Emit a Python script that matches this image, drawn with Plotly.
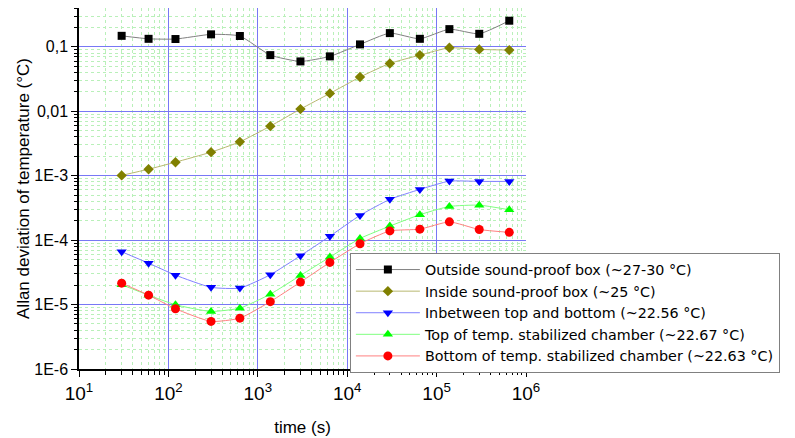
import numpy as np
import plotly.graph_objects as go

# ---- data ----
time_s = [30, 60, 120, 300, 630, 1380, 3000, 6400, 13900, 30000, 65000, 139000, 300000, 650000]

outside_box = [0.148, 0.133, 0.132, 0.156, 0.147, 0.0743, 0.0593, 0.0710, 0.109, 0.163, 0.133, 0.188, 0.159, 0.254]
inside_box = [0.00101, 0.00126, 0.00162, 0.00232, 0.00335, 0.00587, 0.0108, 0.0189, 0.0339, 0.0552, 0.0743, 0.0965, 0.0911, 0.0889]
inbetween = [6.6e-5, 4.39e-5, 2.86e-5, 1.85e-5, 1.80e-5, 2.90e-5, 5.73e-5, 1.15e-4, 2.42e-4, 4.29e-4, 6.12e-4, 8.24e-4, 8.15e-4, 8.15e-4]
top_chamber = [2.03e-5, 1.40e-5, 9.93e-6, 7.82e-6, 8.80e-6, 1.45e-5, 2.83e-5, 5.45e-5, 1.06e-4, 1.65e-4, 2.48e-4, 3.33e-4, 3.49e-4, 2.96e-4]
bottom_chamber = [2.15e-5, 1.40e-5, 8.61e-6, 5.47e-6, 6.15e-6, 1.11e-5, 2.23e-5, 4.51e-5, 8.79e-5, 1.39e-4, 1.48e-4, 1.92e-4, 1.46e-4, 1.32e-4]

series_names = [
    "Outside sound-proof box (~27-30 °C)",
    "Inside sound-proof box (~25 °C)",
    "Inbetween top and bottom (~22.56 °C)",
    "Top of temp. stabilized chamber (~22.67 °C)",
    "Bottom of temp. stabilized chamber (~22.63 °C)",
]

x_tickvals = [1e1, 1e2, 1e3, 1e4, 1e5, 1e6]
x_ticktext = ["10<sup>1</sup>", "10<sup>2</sup>", "10<sup>3</sup>", "10<sup>4</sup>", "10<sup>5</sup>", "10<sup>6</sup>"]
y_tickvals = [1e-6, 1e-5, 1e-4, 1e-3, 1e-2, 1e-1]
y_ticktext = ["1E-6", "1E-5", "1E-4", "1E-3", "0,01", "0,1"]

# ---- styling ----
series = [outside_box, inside_box, inbetween, top_chamber, bottom_chamber]
marker_colors = ["#000000", "#808000", "#0000ff", "#00ff00", "#ff0000"]
line_colors = ["#808080", "#b8b870", "#8080ff", "#80ff80", "#ff8080"]
symbols = ["square", "diamond", "triangle-down", "triangle-up", "circle"]
sizes = [8, 8, 9, 9, 9]

fig = go.Figure()
for ys, name, mc, lc, sym, sz in zip(series, series_names, marker_colors, line_colors, symbols, sizes):
    fig.add_trace(go.Scatter(
        x=time_s, y=ys, name=name, mode="lines+markers",
        line=dict(color=lc, width=1, shape="spline", smoothing=0.5),
        marker=dict(color=mc, symbol=sym, size=sz, line=dict(width=0)),
    ))

minor_vals_x = [m * 10 ** d for d in range(1, 6) for m in range(2, 10)]
minor_vals_y = [m * 10.0 ** d for d in range(-6, 0) for m in range(2, 10)]

major_grid = "rgb(120,120,245)"
minor_grid = "rgb(185,240,185)"

# the page body adds an 8px offset, so the figure is 8px smaller and margins shifted
fig.update_layout(
    width=787, height=430,
    margin=dict(l=71, r=269, t=0, b=69, autoexpand=False),
    paper_bgcolor="white", plot_bgcolor="white",
    font=dict(family="Arial, Liberation Sans, sans-serif", color="black"),
    showlegend=True,
    legend=dict(
        x=0.606, y=0.322, xanchor="left", yanchor="top",
        bordercolor="#808080", borderwidth=1, bgcolor="white",
        font=dict(size=14.3, family="DejaVu Sans, sans-serif"), tracegroupgap=0,
        itemwidth=64,
    ),
    xaxis=dict(
        type="log", range=[1, 6], automargin=False,
        tickmode="array", tickvals=x_tickvals, ticktext=x_ticktext,
        tickfont=dict(size=19),
        ticks="outside", ticklen=6, tickwidth=1.2, tickcolor="black",
        showline=True, linecolor="black", linewidth=1.5,
        showgrid=True, gridcolor=major_grid, gridwidth=1,
        zeroline=False,
        minor=dict(tickmode="array", tickvals=minor_vals_x, ticks="outside", ticklen=4,
                   tickcolor="black", tickwidth=1, showgrid=True,
                   gridcolor=minor_grid, griddash="dot", gridwidth=1),
        title=dict(text="time (s)", font=dict(size=17), standoff=19),
    ),
    yaxis=dict(
        type="log", range=[-6, np.log10(0.4)], automargin=False,
        tickmode="array", tickvals=y_tickvals, ticktext=y_ticktext,
        tickfont=dict(size=16),
        ticks="outside", ticklen=6, tickwidth=1.2, tickcolor="black",
        showline=True, linecolor="black", linewidth=1.5,
        showgrid=True, gridcolor=major_grid, gridwidth=1,
        zeroline=False,
        minor=dict(tickmode="array", tickvals=minor_vals_y, ticks="outside", ticklen=3,
                   tickcolor="black", tickwidth=1, showgrid=True,
                   gridcolor=minor_grid, griddash="dot", gridwidth=1),
        title=dict(text="Allan deviation of temperature (°C)", font=dict(size=17), standoff=0),
    ),
)

fig.write_html("out.html")
